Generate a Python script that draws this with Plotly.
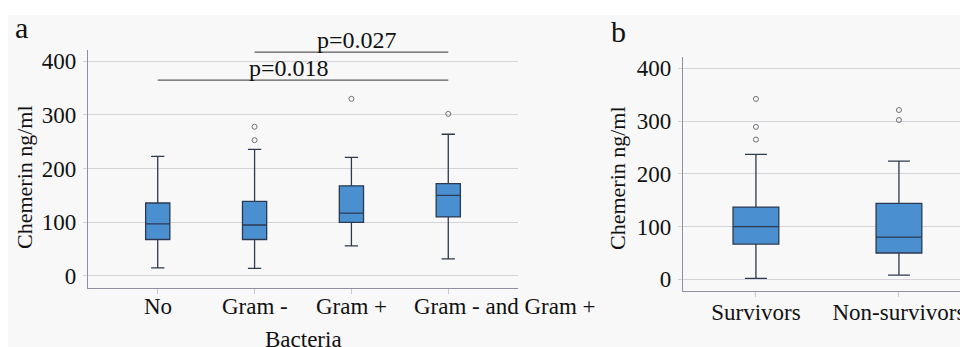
import plotly.graph_objects as go

# ---------------- data ----------------
bact_cats = ["No", "Gram -", "Gram +", "Gram - and Gram +"]
bact_q1 = [68, 68, 100, 110]
bact_median = [97, 95, 117, 150]
bact_q3 = [136, 139, 168, 172]
bact_low = [15, 14, 56, 32]
bact_high = [223, 236, 221, 264]
bact_out_x = ["Gram -", "Gram -", "Gram +", "Gram - and Gram +"]
bact_out_y = [278, 253, 330, 302]

surv_cats = ["Survivors", "Non-survivors"]
surv_q1 = [67, 50]
surv_median = [100, 80]
surv_q3 = [137, 144]
surv_low = [2, 8]
surv_high = [237, 224]
surv_out_x = ["Survivors", "Survivors", "Survivors", "Non-survivors", "Non-survivors"]
surv_out_y = [342, 289, 265, 321, 302]

comp_from = ["No", "Gram -"]
comp_to = ["Gram - and Gram +", "Gram - and Gram +"]
comp_p = ["p=0.018", "p=0.027"]
comp_level = [365, 417]

# ---------------- style ----------------
FONT = "Liberation Serif"
BOX_FILL = "#4a90d0"
BOX_LINE = "#2c3950"
GRID = "#d4d4d8"
AXIS = "#8e8ea4"
TXT = "#111111"
TICK_SIZE = 23
W, H = 960, 347


def fx(px):
    return px / W


def fy(py):
    return 1 - py / H


fig = go.Figure()

fig.add_trace(go.Box(
    x=bact_cats, q1=bact_q1, median=bact_median, q3=bact_q3,
    lowerfence=bact_low, upperfence=bact_high,
    width=0.25, whiskerwidth=0.55, fillcolor=BOX_FILL,
    line=dict(color=BOX_LINE, width=1.3), boxpoints=False,
    xaxis="x", yaxis="y", showlegend=False))
fig.add_trace(go.Scatter(
    x=bact_out_x, y=bact_out_y, mode="markers",
    marker=dict(symbol="circle-open", size=5, color="#707078", line=dict(width=1)),
    xaxis="x", yaxis="y", showlegend=False))

fig.add_trace(go.Box(
    x=surv_cats, q1=surv_q1, median=surv_median, q3=surv_q3,
    lowerfence=surv_low, upperfence=surv_high,
    width=0.32, whiskerwidth=0.48, fillcolor=BOX_FILL,
    line=dict(color=BOX_LINE, width=1.3), boxpoints=False,
    xaxis="x2", yaxis="y2", showlegend=False))
fig.add_trace(go.Scatter(
    x=surv_out_x, y=surv_out_y, mode="markers",
    marker=dict(symbol="circle-open", size=5, color="#707078", line=dict(width=1)),
    xaxis="x2", yaxis="y2", showlegend=False))

shapes = [dict(type="rect", xref="paper", yref="paper",
               x0=fx(8), x1=1, y0=0, y1=fy(15),
               fillcolor="#f8f8f8", line=dict(width=0), layer="below")]
annotations = []

for a, b, p, lvl in zip(comp_from, comp_to, comp_p, comp_level):
    i0 = bact_cats.index(a)
    i1 = bact_cats.index(b)
    shapes.append(dict(type="line", xref="x", yref="y", x0=i0, x1=i1,
                       y0=lvl, y1=lvl, line=dict(color="#5a5a5a", width=1.3)))

annotations.append(dict(text=comp_p[0], xref="x", yref="y", x=1.36, y=comp_level[0],
                        yanchor="bottom", showarrow=False, yshift=-3,
                        font=dict(size=24, family=FONT, color=TXT)))
annotations.append(dict(text=comp_p[1], xref="x", yref="y", x=2.06, y=comp_level[1],
                        yanchor="bottom", showarrow=False, yshift=-3,
                        font=dict(size=24, family=FONT, color=TXT)))

# category labels of panel a (last one sits right of its tick, as in the original)
label_shift = [0, 0, 0, 57]
for i, (cat, sh) in enumerate(zip(bact_cats, label_shift)):
    annotations.append(dict(text=cat, xref="x", yref="paper", x=i, y=fy(306),
                            xanchor="center", yanchor="middle", xshift=sh,
                            showarrow=False,
                            font=dict(size=TICK_SIZE, family=FONT, color=TXT)))

# panel letters and axis titles
for txt, x, y, s, ang in [("a", fx(21), fy(28), 30, 0),
                          ("b", fx(618), fy(32), 30, 0),
                          ("Bacteria", fx(303), fy(339), 23, 0),
                          ("Chemerin ng/ml", fx(25), fy(177), 22, -90),
                          ("Chemerin ng/ml", fx(617), fy(178), 22, -90)]:
    annotations.append(dict(text=txt, xref="paper", yref="paper", x=x, y=y,
                            xanchor="center", yanchor="middle", showarrow=False,
                            textangle=ang, font=dict(size=s, family=FONT, color=TXT)))

xcommon = dict(type="category", showline=True, linecolor=AXIS, linewidth=1.2,
               showgrid=False, zeroline=False, ticks="outside", ticklen=5,
               tickangle=0, automargin=False, ticklabelstandoff=-5,
               tickcolor="#c8c8cc", tickfont=dict(size=TICK_SIZE, family=FONT, color=TXT))
ycommon = dict(showline=True, linecolor=AXIS, linewidth=1.2, showgrid=True,
               gridcolor=GRID, gridwidth=1, zeroline=False, ticks="outside",
               ticklen=4, tickcolor=GRID, tickvals=[0, 100, 200, 300, 400],
               ticklabelstandoff=2, automargin=False,
               tickfont=dict(size=TICK_SIZE, family=FONT, color=TXT))

fig.update_layout(
    width=W, height=H,
    margin=dict(l=0, r=0, t=0, b=0, autoexpand=False),
    paper_bgcolor="white",
    plot_bgcolor="rgba(0,0,0,0)",
    showlegend=False,
    xaxis=dict(domain=[fx(88), fx(518)], range=[-0.72, 3.72], showticklabels=False,
               categoryorder="array", categoryarray=bact_cats, anchor="y", **xcommon),
    yaxis=dict(domain=[fy(288), fy(50)], range=[-22.4, 421], anchor="x", **ycommon),
    xaxis2=dict(domain=[fx(683), 1.0], range=[-0.51, 1.427],
                categoryorder="array", categoryarray=surv_cats, anchor="y2", **xcommon),
    yaxis2=dict(domain=[fy(291), fy(56.7)], range=[-22, 422], anchor="x2", **ycommon),
    shapes=shapes,
    annotations=annotations,
)

fig.write_html("out.html",
               config={"displayModeBar": False},
               post_script="document.body.style.margin='0px';"
                           "document.body.style.overflow='hidden';")
